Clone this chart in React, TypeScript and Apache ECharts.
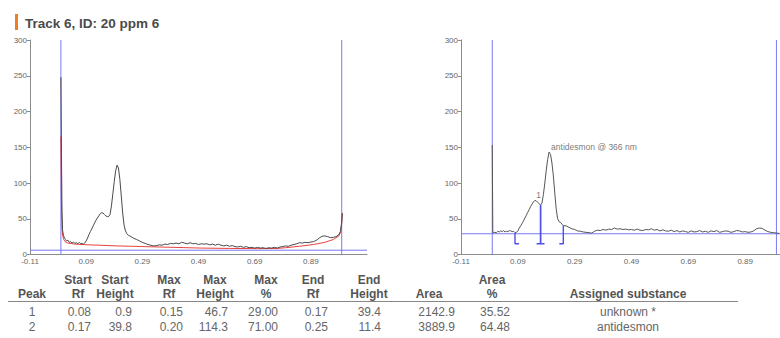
import React, { useEffect, useRef } from "react";
import * as echarts from "echarts";

// ---- Densitogram data (Rf vs. signal) ----
const AXIS_START = -0.11; // Rf at the left end of both x axes
const AXIS_SPAN = 1.2;
const TICK_STEP = 0.2;

// Track 6 – full scan (left) and its fitted baseline
const scanRf = [
  0.0, 0.002, 0.004, 0.006, 0.009, 0.012, 0.016, 0.02, 0.025, 0.03, 0.035, 0.04, 0.045, 0.05, 0.055, 0.06,
  0.065, 0.07, 0.075, 0.08, 0.085, 0.09, 0.095, 0.1, 0.105, 0.11, 0.115, 0.12, 0.125, 0.13, 0.135, 0.14,
  0.145, 0.15, 0.155, 0.16, 0.165, 0.17, 0.175, 0.18, 0.185, 0.19, 0.195, 0.2, 0.205, 0.21, 0.215, 0.22,
  0.225, 0.23, 0.235, 0.24, 0.25, 0.26, 0.27, 0.28, 0.29, 0.3, 0.31, 0.32, 0.33, 0.34, 0.35, 0.36, 0.37,
  0.38, 0.39, 0.4, 0.41, 0.42, 0.43, 0.44, 0.45, 0.46, 0.47, 0.48, 0.49, 0.5, 0.51, 0.52, 0.53, 0.54, 0.55,
  0.56, 0.57, 0.58, 0.59, 0.6, 0.61, 0.62, 0.63, 0.64, 0.65, 0.66, 0.67, 0.68, 0.69, 0.7, 0.71, 0.72, 0.73,
  0.74, 0.75, 0.76, 0.77, 0.78, 0.79, 0.8, 0.81, 0.82, 0.83, 0.84, 0.85, 0.86, 0.87, 0.88, 0.89, 0.9, 0.91,
  0.92, 0.93, 0.94, 0.95, 0.96, 0.97, 0.98, 0.99, 0.995, 1.0, 1.002,
];
const scanSignal = [
  248, 140, 60, 34, 27, 24, 21, 19, 20, 17, 18, 16, 17.5, 15.5, 16.5, 15,
  17, 15, 15.5, 14.5, 16, 19, 23, 28, 32, 36, 40, 44, 48, 51, 54, 57,
  58.5, 58, 56, 54, 53, 53, 56, 68, 85, 102, 117, 125, 121, 105, 82, 58,
  41, 33, 29, 27, 25, 22.5, 21, 19, 17, 15.5, 14, 13, 12, 12.5, 13.5, 13, 14.5,
  14, 15.5, 15, 16, 15, 17, 16, 15, 16.5, 15, 15.5, 14, 15, 14.5, 15, 13.5, 14.5, 13,
  14.5, 13, 12, 13, 11.5, 12.5, 11, 10.5, 11.5, 10, 11, 9.5, 10, 9, 10, 9, 9.5, 8.5,
  9.5, 9, 10, 9, 10.5, 11, 12, 11.5, 13, 14, 15, 16.5, 16, 17, 16.5, 17.5, 18, 20,
  23, 25.5, 26, 25, 23.5, 24, 25, 28, 32, 45, 58,
];
const baselineRf = [
  0.0, 0.002, 0.004, 0.006, 0.01, 0.015, 0.025, 0.05, 0.1, 0.15, 0.2, 0.25, 0.3, 0.35, 0.4, 0.5, 0.6,
  0.7, 0.77, 0.8, 0.85, 0.9, 0.94, 0.97, 0.99, 0.997, 1.0, 1.002,
];
const baselineSignal = [
  165, 75, 38, 27, 21, 18, 16, 14.5, 13.5, 12.8, 12, 11.5, 11, 10.5, 10, 9, 8.5,
  8.2, 8.5, 9.5, 11.5, 14, 17, 21, 26, 32, 45, 58,
];
const scanBaselineLevel = 6;

// Track 6 – integrated scan at 366 nm (right)
const peakRf = [
  0.0, 0.002, 0.008, 0.015, 0.02, 0.025, 0.03, 0.035, 0.04, 0.045, 0.05, 0.055, 0.06, 0.065, 0.07, 0.075,
  0.08, 0.085, 0.09, 0.095, 0.1, 0.105, 0.11, 0.115, 0.12, 0.125, 0.13, 0.135, 0.14, 0.145, 0.15, 0.155,
  0.16, 0.165, 0.17, 0.175, 0.18, 0.185, 0.19, 0.195, 0.2, 0.205, 0.21, 0.215, 0.22, 0.225, 0.23, 0.235,
  0.24, 0.245, 0.25, 0.26, 0.27, 0.28, 0.29, 0.3, 0.31, 0.32, 0.33, 0.34, 0.35, 0.36, 0.37, 0.38, 0.39,
  0.4, 0.41, 0.42, 0.43, 0.44, 0.45, 0.46, 0.47, 0.48, 0.49, 0.5, 0.51, 0.52, 0.53, 0.54, 0.55, 0.56, 0.57,
  0.58, 0.59, 0.6, 0.61, 0.62, 0.63, 0.64, 0.65, 0.66, 0.67, 0.68, 0.69, 0.7, 0.71, 0.72, 0.73, 0.74, 0.75,
  0.76, 0.77, 0.78, 0.79, 0.8, 0.81, 0.82, 0.83, 0.84, 0.85, 0.86, 0.87, 0.88, 0.89, 0.9, 0.91, 0.92, 0.93,
  0.94, 0.95, 0.96, 0.97, 0.98, 0.99, 1.0, 1.01,
];
const peakSignal = [
  153, 30, 31, 30.5, 32.5, 31.5, 33, 32, 33.5, 31.5, 32.5, 32, 33.5, 33, 32, 32.5,
  30.5, 31, 33, 37, 40, 43.5, 47, 51, 55, 59, 63, 67, 70.5, 73.5, 75.7, 75,
  73, 71, 69, 72, 84, 100, 118, 133, 143.3, 140, 128, 110, 86, 64, 50, 46,
  45, 42.5, 40.4, 40, 38, 36, 35, 33, 32.5, 31.5, 31, 30.5, 30, 32.5, 34, 33.5, 35,
  34, 35.5, 35, 37, 35.5, 36, 35, 35.5, 34.5, 35, 34, 35.5, 34, 33.5, 35, 34.5, 36, 34,
  35, 33, 34.5, 33, 32.5, 34, 32, 33.5, 31.5, 33, 32, 31, 33, 31.5, 32, 33.5, 31.5, 32.5,
  31, 33, 32, 33.5, 31, 32, 33, 32.5, 31, 32, 33.5, 33, 31.5, 32, 31, 31.5, 33, 36,
  37, 36.5, 34, 32, 31, 30.5, 30, 29.5,
];
const peakBaselineLevel = 29;
const plateStartRf = 0.0;
const plateEndRf = 1.0;
const wavelength = "366 nm";

// ---- Peak table ----
const peakNo = [1, 2];
const startRf = [0.08, 0.17];
const startHeight = [0.9, 39.8];
const maxRf = [0.15, 0.2];
const maxHeight = [46.7, 114.3];
const maxPercent = [29.0, 71.0];
const endRf = [0.17, 0.25];
const endHeight = [39.4, 11.4];
const area = [2142.9, 3889.9];
const areaPercent = [35.52, 64.48];
const substance = ["unknown *", "antidesmon"];

const title = "Track 6, ID: 20 ppm 6";

// ---- styling ----
const FONT = "'Liberation Sans', Arial, sans-serif";
const BLUE = "#7878f4";
const MARKER_BLUE = "#4f4fe6";
const AXIS_GREY = "#8c8c8c";
const MARKER_FOOT = 15; // signal level where the peak brackets end
const FOOT_LEN = 0.014; // Rf length of the bracket feet
const CANVAS_W = 820; // the right panel runs past the visible 780 px

const toAxis = (rf: number) => +(rf - AXIS_START).toFixed(4);
const pairs = (xs: number[], ys: number[]) => xs.map((x, i) => [toAxis(x), ys[i]]);

function xAxisFor(gridIndex: number) {
  return {
    type: "value",
    gridIndex,
    min: 0,
    max: AXIS_SPAN,
    interval: TICK_STEP,
    axisLine: { show: true, onZero: false, lineStyle: { color: AXIS_GREY, width: 1 } },
    axisTick: { show: false },
    splitLine: { show: false },
    axisLabel: {
      margin: 3,
      fontSize: 8,
      color: "#666",
      fontFamily: FONT,
      showMaxLabel: false,
      formatter: (v: number) => (v + AXIS_START).toFixed(2),
    },
  };
}

function yAxisFor(gridIndex: number) {
  return {
    type: "value",
    gridIndex,
    min: 0,
    max: 300,
    interval: 50,
    axisLine: { show: true, lineStyle: { color: AXIS_GREY, width: 1 } },
    axisTick: { show: true, length: 3, lineStyle: { color: AXIS_GREY } },
    splitLine: { show: false },
    axisLabel: { margin: 3, fontSize: 8, color: "#666", fontFamily: FONT },
  };
}

// plate limits (vertical) and integration baseline (horizontal) of one panel
function plateLines(panel: number, level: number) {
  const seg = (data: number[][]) => ({
    type: "line",
    xAxisIndex: panel,
    yAxisIndex: panel,
    silent: true,
    symbol: "none",
    showSymbol: false,
    lineStyle: { color: BLUE, width: 1 },
    data,
    z: 1,
  });
  return [
    seg([
      [toAxis(plateStartRf), 0],
      [toAxis(plateStartRf), 300],
    ]),
    seg([
      [toAxis(plateEndRf), 0],
      [toAxis(plateEndRf), 300],
    ]),
    seg([
      [0, level],
      [AXIS_SPAN, level],
    ]),
  ];
}

// bracket marks under each integrated peak: "[" at the start, "]" at the end
function peakBrackets() {
  const out: any[] = [];
  const mark = (data: number[][]) => ({
    type: "line",
    xAxisIndex: 1,
    yAxisIndex: 1,
    silent: true,
    symbol: "none",
    showSymbol: false,
    lineStyle: { color: MARKER_BLUE, width: 1.4 },
    data,
    z: 4,
  });
  peakNo.forEach((_, i) => {
    const s = startRf[i];
    const e = endRf[i];
    out.push(
      mark([
        [toAxis(s + FOOT_LEN), MARKER_FOOT],
        [toAxis(s), MARKER_FOOT],
        [toAxis(s), peakBaselineLevel + startHeight[i]],
      ])
    );
    out.push(
      mark([
        [toAxis(e - FOOT_LEN), MARKER_FOOT],
        [toAxis(e), MARKER_FOOT],
        [toAxis(e), peakBaselineLevel + endHeight[i]],
      ])
    );
  });
  return out;
}

function peakLabels() {
  const data: any[] = [];
  peakNo.forEach((n, i) => {
    if (substance[i].startsWith("unknown")) {
      data.push({
        value: [toAxis(endRf[i]), peakBaselineLevel + endHeight[i]],
        label: { formatter: String(n), position: "top", distance: 6, offset: [-2, 0] },
      });
    } else {
      data.push({
        value: [toAxis(maxRf[i]), peakBaselineLevel + maxHeight[i]],
        label: {
          formatter: `${substance[i]} @ ${wavelength}`,
          position: [2, -1],
          align: "left",
          verticalAlign: "bottom",
        },
      });
    }
  });
  return {
    type: "scatter",
    xAxisIndex: 1,
    yAxisIndex: 1,
    symbolSize: 0,
    silent: true,
    label: { show: true, fontSize: 8.5, color: "#555", fontFamily: FONT },
    data,
    z: 6,
  };
}

// ---- peak table as graphic texts ----
type Col = { head: [string, string]; hc: number; ax: number; align?: string; cell: (i: number) => string };
const columns: Col[] = [
  { head: ["", "Peak"], hc: 32, ax: 32, align: "center", cell: (i) => String(peakNo[i]) },
  { head: ["Start", "Rf"], hc: 78, ax: 91, cell: (i) => startRf[i].toFixed(2) },
  { head: ["Start", "Height"], hc: 115, ax: 132, cell: (i) => startHeight[i].toFixed(1) },
  { head: ["Max", "Rf"], hc: 169, ax: 183, cell: (i) => maxRf[i].toFixed(2) },
  { head: ["Max", "Height"], hc: 215, ax: 228, cell: (i) => maxHeight[i].toFixed(1) },
  { head: ["Max", "%"], hc: 266, ax: 278, cell: (i) => maxPercent[i].toFixed(2) },
  { head: ["End", "Rf"], hc: 313, ax: 328, cell: (i) => endRf[i].toFixed(2) },
  { head: ["End", "Height"], hc: 369, ax: 381, cell: (i) => endHeight[i].toFixed(1) },
  { head: ["", "Area"], hc: 429, ax: 455, cell: (i) => area[i].toFixed(1) },
  { head: ["Area", "%"], hc: 492, ax: 510, cell: (i) => areaPercent[i].toFixed(2) },
  { head: ["", "Assigned substance"], hc: 628, ax: 628, align: "center", cell: (i) => substance[i] },
];
const HEAD_Y = [280, 294];
const RULE_Y = 301.5;
const ROW_Y = [312, 327];

function tableGraphics() {
  const els: any[] = [];
  columns.forEach((c) => {
    c.head.forEach((h, r) => {
      if (!h) return;
      els.push({
        type: "text",
        x: c.hc,
        y: HEAD_Y[r],
        style: {
          text: h,
          fill: "#555",
          fontSize: 12,
          fontWeight: "bold",
          fontFamily: FONT,
          align: "center",
          verticalAlign: "middle",
        },
      });
    });
    peakNo.forEach((_, i) => {
      els.push({
        type: "text",
        x: c.ax,
        y: ROW_Y[i],
        style: {
          text: c.cell(i),
          fill: "#666",
          fontSize: 12,
          fontFamily: FONT,
          align: c.align || "right",
          verticalAlign: "middle",
        },
      });
    });
  });
  els.push({
    type: "line",
    shape: { x1: 8, y1: RULE_Y, x2: 738, y2: RULE_Y },
    style: { stroke: "#888", lineWidth: 1 },
  });
  return els;
}

export default function App() {
  const ref = useRef<HTMLDivElement>(null);

  useEffect(() => {
    if (!ref.current) return;
    const chart = echarts.init(ref.current, undefined, { renderer: "svg" });
    chart.setOption({
      animation: false,
      backgroundColor: "#ffffff",
      textStyle: { fontFamily: FONT },
      grid: [
        { left: 30, top: 40, width: 337, height: 214.5, outerBoundsMode: "none", containLabel: false },
        { left: 461, top: 40, width: 341, height: 214.5, outerBoundsMode: "none", containLabel: false },
      ],
      xAxis: [xAxisFor(0), xAxisFor(1)],
      yAxis: [yAxisFor(0), yAxisFor(1)],
      series: [
        ...plateLines(0, scanBaselineLevel),
        ...plateLines(1, peakBaselineLevel),
        {
          type: "line",
          name: "baseline",
          xAxisIndex: 0,
          yAxisIndex: 0,
          data: pairs(baselineRf, baselineSignal),
          showSymbol: false,
          symbol: "none",
          silent: true,
          lineStyle: { color: "#e8423f", width: 1 },
          z: 2,
        },
        {
          type: "line",
          name: "scan",
          xAxisIndex: 0,
          yAxisIndex: 0,
          data: pairs(scanRf, scanSignal),
          showSymbol: false,
          symbol: "none",
          silent: true,
          lineStyle: { color: "#4a4a4a", width: 1 },
          z: 3,
        },
        {
          type: "line",
          name: "peaks",
          xAxisIndex: 1,
          yAxisIndex: 1,
          data: pairs(peakRf, peakSignal),
          showSymbol: false,
          symbol: "none",
          silent: true,
          lineStyle: { color: "#555", width: 1 },
          z: 3,
        },
        ...peakBrackets(),
        peakLabels(),
      ],
      graphic: [
        { type: "rect", shape: { x: 15, y: 14, width: 3, height: 16 }, style: { fill: "#f07d1e" } },
        {
          type: "text",
          x: 25,
          y: 23,
          style: {
            text: title,
            fill: "#4a4a4a",
            fontSize: 13.5,
            fontWeight: "bold",
            fontFamily: FONT,
            verticalAlign: "middle",
          },
        },
        ...tableGraphics(),
      ],
    });
    return () => chart.dispose();
  }, []);

  return (
    <div style={{ position: "fixed", left: 0, top: 0, width: 780, height: 338, overflow: "hidden", background: "#fff" }}>
      <div ref={ref} style={{ width: CANVAS_W, height: 338 }} />
    </div>
  );
}
